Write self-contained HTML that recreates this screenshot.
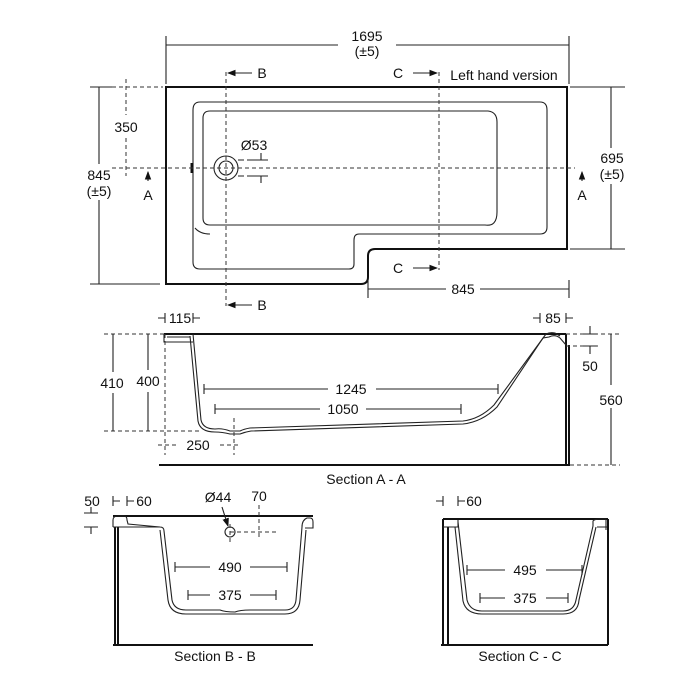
<!DOCTYPE html>
<html><head><meta charset="utf-8"><style>
html,body{margin:0;padding:0;background:#fff}
svg{display:block}
text{font-family:"Liberation Sans",sans-serif;font-size:14px;fill:#111;text-anchor:middle}
.o{fill:none;stroke:#111;stroke-width:2}
.t{fill:none;stroke:#222;stroke-width:1.1}
.d{fill:none;stroke:#333;stroke-width:1;stroke-dasharray:4,3}
</style></head><body>
<svg width="700" height="700" viewBox="0 0 700 700" xmlns="http://www.w3.org/2000/svg">
<defs><marker id="ar" markerWidth="8" markerHeight="6" refX="7" refY="3" orient="auto"><path d="M0,0 L8,3 L0,6z" fill="#111"/></marker></defs>
<!-- PLAN -->
<path class="o" d="M166,87 H567 V249 H375 Q368,249 368,256 V277 Q368,284 361,284 H166 Z"/>
<path class="t" d="M200,102 H540 Q547,102 547,110 V227 Q547,234 540,234 H359 Q354,234 354,240 V264 Q354,269 349,269 H200 Q193,269 193,262 V110 Q193,102 200,102 Z"/>
<path class="t" d="M210,111 H488 Q497,112 497,122 V212 Q497,227 485,225 H210 Q203,225 203,218 V118 Q203,111 210,111 Z"/>
<path class="t" d="M195,228 Q200,234 210,234"/>
<circle cx="226" cy="168" r="12" class="t" stroke-width="1.5"/><circle cx="226" cy="168" r="7" class="t"/>
<path d="M192,163 V173" stroke="#111" stroke-width="3"/>
<path class="d" d="M112,168 H575"/>
<path class="d" d="M226,72 V306"/><path class="d" d="M439,72 V270"/>
<path class="t" d="M252,73 H228" marker-end="url(#ar)"/><text x="262" y="78">B</text>
<path class="t" d="M252,305 H228" marker-end="url(#ar)"/><text x="262" y="310">B</text>
<path class="t" d="M413,73 H437" marker-end="url(#ar)"/><text x="398" y="78">C</text>
<path class="t" d="M413,268 H437" marker-end="url(#ar)"/><text x="398" y="273">C</text>
<path class="t" d="M148,181 V172" marker-end="url(#ar)"/><text x="148" y="200">A</text>
<path class="t" d="M582,181 V172" marker-end="url(#ar)"/><text x="582" y="200">A</text>
<text x="504" y="80">Left hand version</text>
<path class="t" d="M166,36 V84 M569,36 V84 M166,45 H338 M396,45 H569"/>
<text x="367" y="41">1695</text><text x="367" y="56">(±5)</text>
<path class="t" d="M90,87 H112 M90,284 H160 M99,87 V164 M99,200 V284"/>
<text x="99" y="180">845</text><text x="99" y="196">(±5)</text>
<path class="d" d="M126,79 V115 M126,138 V176 M112,87 H163"/>
<text x="126" y="132">350</text>
<path class="t" d="M570,87 H625 M570,249 H625 M611,87 V148 M611,184 V249"/>
<text x="612" y="163">695</text><text x="612" y="179">(±5)</text>
<path class="t" d="M368,280 V298 M569,280 V298 M368,289 H446 M480,289 H569"/>
<text x="463" y="294">845</text>
<text x="254" y="150">Ø53</text>
<path class="t" d="M247,160 H268 M261,153 V160 M247,176 H268 M261,176 V183 M238,160 H244 M238,176 H244"/>
<!-- SECTION A-A -->
<path class="o" d="M164,334 H566 M159,465 H570 M566,334 V465 M569,345 V465"/>
<path class="t" d="M164,334 V342 H193 M167,337 H190"/>
<path class="t" d="M193,334 L201,420 Q203,429 215,429 Q222,428 230,431 L240,431 Q244,429 250,428 L463,421 Q480,419 494,405 L546,334"/>
<path class="t" d="M190,336 L198,421 Q200,432 215,432 Q222,432 230,434 L240,434 Q245,432 251,431 L463,424 Q482,422 497,407 L543,338 L549,337 Q555,334 560,338 L566,345"/>
<path class="t" d="M546,334 Q550,332 555,333 L560,336"/>
<path class="t" d="M204,384 V394 M498,384 V394 M204,389 H328 M376,389 H498"/>
<text x="351" y="394">1245</text>
<path class="t" d="M215,404 V414 M461,404 V414 M215,409 H320 M366,409 H461"/>
<text x="343" y="414">1050</text>
<path class="d" d="M104,334 H164 M104,431 H200 M165,334 V455 M234,418 V455 M158,445 H178 M220,445 H240"/>
<path class="t" d="M113,334 V372 M113,393 V431 M148,334 V370 M148,392 V431"/>
<text x="112" y="388">410</text><text x="148" y="386">400</text>
<text x="198" y="450">250</text>
<path class="t" d="M165,313 V323 M193,313 V323 M158,318 H165 M193,318 H200"/>
<text x="180" y="323">115</text>
<path class="t" d="M540,313 V323 M566,313 V323 M533,318 H540 M566,318 H573"/>
<text x="553" y="323">85</text>
<path class="d" d="M566,334 H620 M566,346 H600 M570,465 H620"/>
<path class="t" d="M590,326 V334 M590,346 V354 M583,334 H597 M583,346 H597"/>
<text x="590" y="371">50</text>
<path class="t" d="M611,334 V385 M611,408 V465"/>
<text x="611" y="405">560</text>
<text x="366" y="484">Section A - A</text>
<!-- SECTION B-B -->
<path class="o" d="M113,516 H313 M113,645 H313 M115,527 V645 M118,527 V645"/>
<path class="t" d="M113,527 V520 Q113,516 118,516 H124 Q127,516 127,520 L128,524 L160,527 Q164,527 164,531 L172,600 Q174,610 186,610 H220 Q225,612 235,612 Q240,610 250,610 H285 Q295,610 296,600 L302,527 Q302,520 307,518 H310 Q313,518 313,522 V528 H305"/>
<path class="t" d="M113,527 H160 M160,530 L168,600 Q170,614 186,614 H285 Q299,614 300,600 L306,530"/>
<path class="t" d="M175,562 V572 M287,562 V572 M175,567 H210 M250,567 H287"/>
<text x="230" y="572">490</text>
<path class="t" d="M188,590 V600 M276,590 V600 M188,595 H210 M250,595 H276"/>
<text x="230" y="600">375</text>
<text x="218" y="502">Ø44</text><text x="259" y="501">70</text>
<path class="t" d="M222,507 L228,526" marker-end="url(#ar)"/>
<circle cx="230" cy="532" r="5" class="t"/>
<path class="d" d="M259,505 V540 M230,532 H276 M230,524 V545"/>
<path class="t" d="M113,496 V506 M127,496 V506 M120,501 H113 M127,501 H134"/>
<text x="144" y="506">60</text><text x="92" y="506">50</text>
<path class="t" d="M84,513 H98 M91,507 V513 M84,527 H98 M91,527 V534"/>
<text x="215" y="661">Section B - B</text>
<!-- SECTION C-C -->
<path class="o" d="M443,519 H608 M441,645 H608 M443,519 V645 M448,527 V645 M608,519 V645"/>
<path class="t" d="M443,527 H458 V520 M458,522 L467,600 Q470,611 482,611 H563 Q574,611 576,600 L593,526 L593,521 Q595,519 600,519 H606 V530 M607,527 H597"/>
<path class="t" d="M455,527 L463,601 Q466,614 482,614 H563 Q578,614 579,600 L596,527"/>
<path class="t" d="M467,565 V575 M582,565 V575 M467,570 H505 M546,570 H582"/>
<text x="525" y="575">495</text>
<path class="t" d="M480,593 V603 M568,593 V603 M480,598 H505 M546,598 H568"/>
<text x="525" y="603">375</text>
<path class="t" d="M443,496 V506 M458,496 V506 M436,501 H443 M458,501 H465"/>
<text x="474" y="506">60</text>
<text x="520" y="661">Section C - C</text>
</svg>
</body></html>
